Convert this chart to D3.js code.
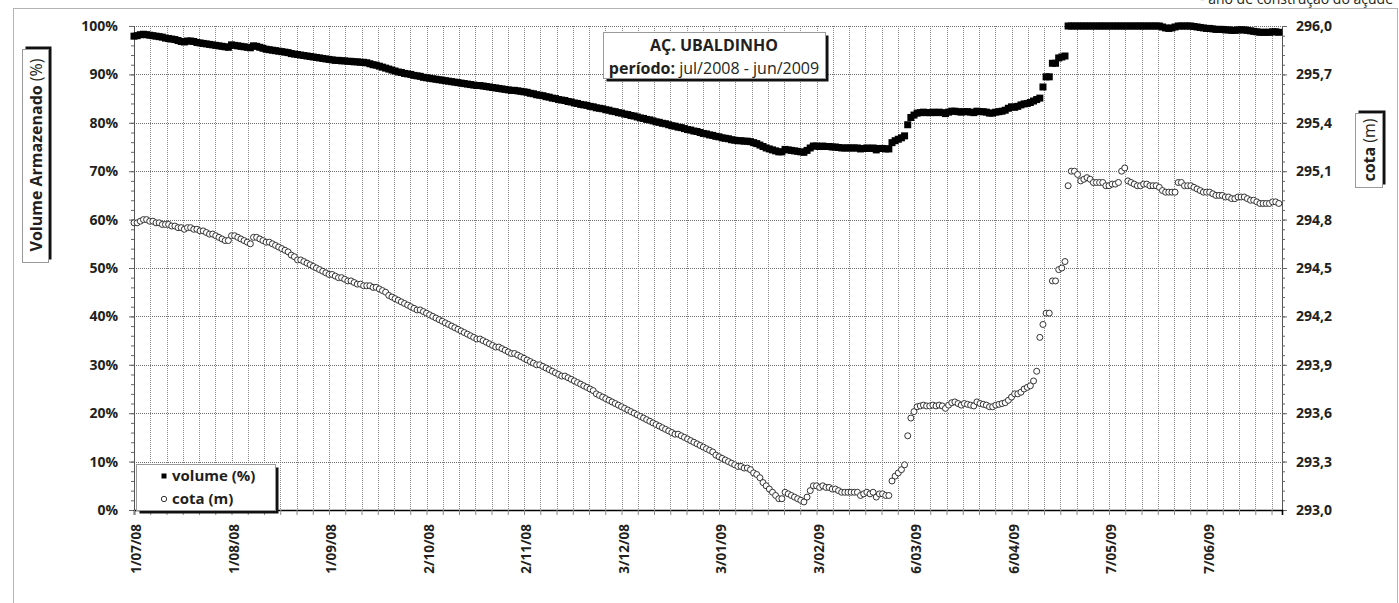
<!DOCTYPE html>
<html>
<head>
<meta charset="utf-8">
<script src="https://cdn.jsdelivr.net/npm/d3@7"></script>
<style>
  body { margin: 0; background: #fff; }
  text { font-family: "Open Sans", sans-serif; fill: #231f20; }
</style>
</head>
<body>
<div id="chart"></div>
<script>
// daily readings, first one on 1/07/2008
const startDate = new Date(2008, 6, 1);
const endDate = new Date(2009, 6, 1);

// volume armazenado (%)
const volume = [
  97.9, 98.0, 98.2, 98.3, 98.2, 98.1, 98.0, 97.9, 97.8, 97.7,
  97.5, 97.4, 97.3, 97.2, 97.0, 96.8, 96.7, 96.9, 96.9, 96.8,
  96.6, 96.5, 96.4, 96.3, 96.2, 96.1, 96.0, 95.9, 95.8, 95.7,
  95.6, 96.1, 96.0, 95.9, 95.8, 95.7, 95.6, 95.5, 95.9, 95.8,
  95.6, 95.4, 95.2, 95.1, 95.0, 94.9, 94.8, 94.7, 94.6, 94.5,
  94.3, 94.2, 94.1, 94.0, 93.9, 93.8, 93.7, 93.6, 93.5, 93.4,
  93.3, 93.2, 93.1, 93.0, 92.9, 92.9, 92.8, 92.8, 92.7, 92.7,
  92.6, 92.6, 92.5, 92.5, 92.4, 92.2, 92.0, 91.9, 91.7, 91.5,
  91.3, 91.1, 90.9, 90.7, 90.5, 90.4, 90.2, 90.1, 90.0, 89.8,
  89.7, 89.6, 89.4, 89.3, 89.2, 89.1, 89.0, 88.9, 88.8, 88.7,
  88.6, 88.5, 88.4, 88.3, 88.2, 88.1, 88.0, 87.9, 87.8, 87.7,
  87.7, 87.6, 87.5, 87.4, 87.3, 87.2, 87.1, 87.0, 86.9, 86.8,
  86.7, 86.7, 86.6, 86.5, 86.4, 86.3, 86.1, 86.0, 85.8, 85.7,
  85.6, 85.4, 85.3, 85.1, 85.0, 84.8, 84.7, 84.6, 84.4, 84.3,
  84.1, 84.0, 83.8, 83.7, 83.6, 83.4, 83.3, 83.1, 83.0, 82.9,
  82.7, 82.6, 82.4, 82.3, 82.1, 82.0, 81.8, 81.7, 81.5, 81.4,
  81.2, 81.0, 80.9, 80.7, 80.6, 80.4, 80.2, 80.1, 79.9, 79.8,
  79.6, 79.4, 79.3, 79.1, 79.0, 78.8, 78.6, 78.5, 78.3, 78.2,
  78.0, 77.8, 77.7, 77.5, 77.4, 77.2, 77.1, 76.9, 76.8, 76.7,
  76.5, 76.4, 76.3, 76.3, 76.2, 76.2, 76.1, 75.9, 75.7, 75.4,
  75.1, 74.8, 74.6, 74.4, 74.2, 74.0, 74.0, 74.5, 74.4, 74.3,
  74.2, 74.1, 74.0, 73.9, 74.3, 74.8, 75.2, 75.2, 75.1, 75.2,
  75.1, 75.1, 75.0, 75.0, 74.9, 74.8, 74.8, 74.8, 74.8, 74.8,
  74.8, 74.6, 74.7, 74.8, 74.7, 74.8, 74.4, 74.7, 74.7, 74.6,
  74.6, 75.9, 76.3, 76.6, 76.9, 77.3, 79.6, 81.1, 81.6, 82.0,
  82.1, 82.2, 82.1, 82.1, 82.2, 82.1, 82.2, 82.1, 81.9, 82.2,
  82.4, 82.4, 82.3, 82.2, 82.3, 82.3, 82.2, 82.1, 82.4, 82.3,
  82.3, 82.2, 82.0, 82.0, 82.2, 82.3, 82.4, 82.6, 83.0, 83.3,
  83.2, 83.4, 83.7, 83.9, 84.0, 84.2, 84.5, 84.8, 85.1, 87.4,
  89.5, 89.5, 92.3, 92.3, 93.4, 93.6, 93.8, 100, 100, 100,
  100, 100, 100, 100, 100, 100, 100, 100, 100, 100,
  100, 100, 100, 100, 100, 100, 100, 100, 100, 100,
  100, 100, 100, 100, 100, 100, 100, 99.8, 99.6, 99.5,
  99.6, 99.8, 100, 100, 100, 100, 100, 99.9, 99.8, 99.7,
  99.6, 99.5, 99.5, 99.4, 99.3, 99.3, 99.3, 99.2, 99.2, 99.1,
  99.1, 99.2, 99.2, 99.2, 99.1, 99.0, 98.9, 98.8, 98.7, 98.7,
  98.7, 98.7, 98.8, 98.8, 98.7
];

// cota (m)
const cota = [
  294.78, 294.78, 294.79, 294.80, 294.80, 294.79, 294.79, 294.78, 294.78, 294.77,
  294.77, 294.77, 294.76, 294.76, 294.75, 294.75, 294.74, 294.75, 294.75, 294.74,
  294.74, 294.73, 294.73, 294.72, 294.71, 294.71, 294.70, 294.69, 294.68, 294.67,
  294.67, 294.70, 294.70, 294.69, 294.68, 294.67, 294.66, 294.65, 294.69, 294.69,
  294.68, 294.67, 294.66, 294.66, 294.65, 294.64, 294.63, 294.62, 294.61, 294.60,
  294.58, 294.57, 294.55, 294.55, 294.54, 294.53, 294.52, 294.51, 294.50, 294.49,
  294.48, 294.47, 294.46, 294.46, 294.45, 294.44, 294.44, 294.43, 294.42, 294.42,
  294.41, 294.40, 294.40, 294.39, 294.39, 294.39, 294.38, 294.38, 294.37, 294.36,
  294.35, 294.33, 294.32, 294.31, 294.30, 294.29, 294.28, 294.27, 294.26, 294.25,
  294.24, 294.24, 294.23, 294.22, 294.21, 294.20, 294.19, 294.18, 294.17, 294.16,
  294.15, 294.14, 294.13, 294.12, 294.11, 294.10, 294.09, 294.08, 294.07, 294.06,
  294.06, 294.05, 294.04, 294.03, 294.02, 294.01, 294.01, 294.00, 293.99, 293.98,
  293.97, 293.97, 293.96, 293.95, 293.94, 293.93, 293.92, 293.91, 293.90, 293.90,
  293.89, 293.88, 293.87, 293.86, 293.85, 293.84, 293.83, 293.83, 293.82, 293.81,
  293.80, 293.79, 293.78, 293.77, 293.76, 293.75, 293.74, 293.72, 293.71, 293.70,
  293.69, 293.68, 293.67, 293.66, 293.65, 293.64, 293.63, 293.62, 293.61, 293.60,
  293.59, 293.58, 293.57, 293.56, 293.55, 293.54, 293.53, 293.52, 293.51, 293.50,
  293.49, 293.48, 293.47, 293.47, 293.46, 293.45, 293.44, 293.43, 293.42, 293.41,
  293.40, 293.39, 293.38, 293.37, 293.36, 293.34, 293.33, 293.32, 293.31, 293.30,
  293.29, 293.28, 293.27, 293.27, 293.26, 293.26, 293.25, 293.23, 293.22, 293.20,
  293.17, 293.15, 293.13, 293.11, 293.09, 293.07, 293.07, 293.11, 293.10, 293.09,
  293.08, 293.07, 293.06, 293.05, 293.08, 293.12, 293.15, 293.15, 293.14, 293.15,
  293.14, 293.14, 293.13, 293.13, 293.12, 293.11, 293.11, 293.11, 293.11, 293.11,
  293.11, 293.09, 293.10, 293.11, 293.10, 293.11, 293.08, 293.10, 293.10, 293.09,
  293.09, 293.18, 293.21, 293.23, 293.25, 293.28, 293.46, 293.57, 293.61, 293.64,
  293.645, 293.65, 293.645, 293.645, 293.65, 293.645, 293.65, 293.645, 293.63, 293.65,
  293.665, 293.67, 293.66, 293.65, 293.66, 293.655, 293.65, 293.645, 293.67, 293.66,
  293.655, 293.65, 293.64, 293.64, 293.65, 293.655, 293.66, 293.665, 293.68, 293.70,
  293.72, 293.72, 293.73, 293.75, 293.76, 293.77, 293.80, 293.86, 294.07, 294.15,
  294.22, 294.22, 294.42, 294.42, 294.49, 294.50, 294.54, 295.01, 295.10, 295.10,
  295.08, 295.04, 295.05, 295.06, 295.05, 295.03, 295.03, 295.03, 295.03, 295.01,
  295.01, 295.02, 295.02, 295.03, 295.10, 295.12, 295.04, 295.03, 295.02, 295.01,
  295.01, 295.02, 295.02, 295.01, 295.01, 295.01, 295.00, 294.98, 294.97, 294.97,
  294.97, 294.97, 295.03, 295.03, 295.01, 295.01, 295.01, 295.00, 294.99, 294.98,
  294.97, 294.97, 294.97, 294.96, 294.95, 294.95, 294.95, 294.94, 294.94, 294.93,
  294.93, 294.94, 294.94, 294.94, 294.93, 294.92, 294.92, 294.91, 294.90, 294.90,
  294.90, 294.90, 294.91, 294.91, 294.90
];

const pctTicks = [0, 10, 20, 30, 40, 50, 60, 70, 80, 90, 100];
const cotaTicks = [293.0, 293.3, 293.6, 293.9, 294.2, 294.5, 294.8, 295.1, 295.4, 295.7, 296.0];
const labelEveryDays = 31; // major unit of the date axis
const minorPerMajor = 6;

const W = 1399, H = 603;
const plot = { left: 134, right: 1282, top: 26, bottom: 510 };

const svg = d3.select("#chart").append("svg")
  .attr("width", W)
  .attr("height", H);

// outer frame of the chart area
svg.append("rect")
  .attr("x", 13.5).attr("y", 8.5)
  .attr("width", 1384).attr("height", 640)
  .attr("fill", "none")
  .attr("stroke", "#b4b4b4");

// note cut off at the very top (as in the source image)
svg.append("text")
  .attr("x", 1393).attr("y", 4)
  .attr("text-anchor", "end")
  .style("font-size", "14px")
  .text("- ano de construção do açude");

// scales
const x = d3.scaleTime().domain([startDate, endDate]).range([plot.left, plot.right]);
const yL = d3.scaleLinear().domain([0, 100]).range([plot.bottom, plot.top]);
const yR = d3.scaleLinear().domain([293, 296]).range([plot.bottom, plot.top]);

const dates = volume.map((v, i) => d3.timeDay.offset(startDate, i));
const dayMs = 864e5;
const tickDates = d3.range(0, 71).map(k => new Date(startDate.getTime() + k * labelEveryDays / minorPerMajor * dayMs));
const fmtDate = d3.timeFormat("%-d/%m/%y");

// grid
const grid = svg.append("g").attr("class", "grid");
grid.selectAll(".vgrid")
  .data(tickDates.slice(1))
  .enter()
  .append("line")
  .attr("class", "vgrid")
  .attr("x1", d => Math.round(x(d)) + 0.5)
  .attr("x2", d => Math.round(x(d)) + 0.5)
  .attr("y1", plot.top)
  .attr("y2", plot.bottom)
  .attr("stroke", "#8a8a8a")
  .attr("stroke-dasharray", "1,1");

grid.selectAll(".hgrid")
  .data(pctTicks.slice(1))
  .enter()
  .append("line")
  .attr("class", "hgrid")
  .attr("x1", plot.left)
  .attr("x2", plot.right)
  .attr("y1", d => Math.round(yL(d)) + 0.5)
  .attr("y2", d => Math.round(yL(d)) + 0.5)
  .attr("stroke", "#6e6e6e")
  .attr("stroke-dasharray", "1,1");

// left axis
const leftAxis = svg.append("g")
  .attr("transform", `translate(${plot.left},0)`)
  .call(d3.axisLeft(yL).tickValues(pctTicks).tickSize(5).tickPadding(11).tickFormat(d => d + "%"));
svg.append("g")
  .attr("transform", `translate(${plot.left},0)`)
  .call(d3.axisLeft(yL).tickValues(d3.range(0, 101, 2)).tickSize(3).tickFormat(""))
  .call(g => g.select(".domain").remove());

// right axis
const rightAxis = svg.append("g")
  .attr("transform", `translate(${plot.right},0)`)
  .call(d3.axisRight(yR).tickValues(cotaTicks).tickSize(5).tickPadding(9)
    .tickFormat(d => d.toFixed(1).replace(".", ",")));
svg.append("g")
  .attr("transform", `translate(${plot.right},0)`)
  .call(d3.axisRight(yR).tickValues(d3.range(0, 51).map(i => 293 + i * 0.06)).tickSize(3).tickFormat(""))
  .call(g => g.select(".domain").remove());

[leftAxis, rightAxis].forEach(g => {
  g.selectAll("text")
    .style("font-size", "14px")
    .style("font-weight", "700")
    .attr("fill", "#231f20");
});
svg.selectAll(".tick line").attr("stroke", "#666");
leftAxis.select(".domain").attr("stroke", "#555");
rightAxis.select(".domain").attr("stroke", "#555");

// bottom axis
const bottomAxis = svg.append("g")
  .attr("transform", `translate(0,${plot.bottom})`)
  .call(d3.axisBottom(x).tickValues(tickDates).tickSize(5)
    .tickFormat((d, i) => (i % minorPerMajor === 0 ? fmtDate(d) : "")));
bottomAxis.select(".domain").attr("stroke", "#000").attr("stroke-width", 1.6);
bottomAxis.selectAll(".tick line").attr("stroke", "#888");
bottomAxis.selectAll("text")
  .attr("transform", "rotate(-90)")
  .attr("text-anchor", "end")
  .attr("x", -14)
  .attr("y", 2)
  .attr("dy", "0.35em")
  .style("font-size", "13.5px")
  .style("font-weight", "700")
  .attr("fill", "#231f20");

// series
svg.append("g")
  .selectAll("rect")
  .data(volume)
  .enter()
  .append("rect")
  .attr("x", (d, i) => x(dates[i]) - 3.5)
  .attr("y", d => yL(d) - 3.5)
  .attr("width", 7)
  .attr("height", 7)
  .attr("fill", "#000");

svg.append("g")
  .selectAll("circle")
  .data(cota)
  .enter()
  .append("circle")
  .attr("cx", (d, i) => x(dates[i]))
  .attr("cy", d => yR(d))
  .attr("r", 3)
  .attr("fill", "#fff")
  .attr("stroke", "#333")
  .attr("stroke-width", 1);

// boxes with a drop shadow
function shadowBox(bx, by, bw, bh, dx, dy) {
  svg.append("rect")
    .attr("x", bx + dx).attr("y", by + dy)
    .attr("width", bw).attr("height", bh)
    .attr("fill", "#111");
  svg.append("rect")
    .attr("x", bx).attr("y", by)
    .attr("width", bw).attr("height", bh)
    .attr("fill", "#fff")
    .attr("stroke", "#9a9a9a");
}

// title
shadowBox(603.5, 32.5, 222, 46, 3, 3);
svg.append("text")
  .attr("x", 714).attr("y", 45).attr("dy", "0.35em")
  .attr("text-anchor", "middle")
  .style("font-size", "16px").style("font-weight", "700")
  .text("AÇ. UBALDINHO");
const sub = svg.append("text")
  .attr("x", 714).attr("y", 68).attr("dy", "0.35em")
  .attr("text-anchor", "middle")
  .style("font-size", "16px");
sub.append("tspan").style("font-weight", "700").text("período:");
sub.append("tspan").text(" jul/2008 - jun/2009");

// legend
shadowBox(136.5, 464.5, 139, 46, 3, 3);
const legendItems = [
  { label: "volume (%)", mark: "square" },
  { label: "cota (m)", mark: "circle" }
];
legendItems.forEach((item, i) => {
  const ly = 476 + i * 23;
  if (item.mark === "square") {
    svg.append("rect").attr("x", 161.5).attr("y", ly - 2.5).attr("width", 5).attr("height", 5).attr("fill", "#000");
  } else {
    svg.append("circle").attr("cx", 164).attr("cy", ly).attr("r", 2.7)
      .attr("fill", "#fff").attr("stroke", "#333");
  }
  svg.append("text")
    .attr("x", 172).attr("y", ly).attr("dy", "0.35em")
    .style("font-size", "15px").style("font-weight", "700")
    .text(item.label);
});

// axis titles
shadowBox(22.5, 49.5, 26, 213, 3, -3);
const yTitle = svg.append("text")
  .attr("transform", "translate(36,155) rotate(-90)")
  .attr("dy", "0.35em")
  .attr("text-anchor", "middle")
  .style("font-size", "16px");
yTitle.append("tspan").style("font-weight", "700").text("Volume Armazenado");
yTitle.append("tspan").text(" (%)");

shadowBox(1355.5, 113.5, 27, 74, 3, -3);
const rTitle = svg.append("text")
  .attr("transform", "translate(1369,150) rotate(-90)")
  .attr("dy", "0.35em")
  .attr("text-anchor", "middle")
  .style("font-size", "16px");
rTitle.append("tspan").style("font-weight", "700").text("cota");
rTitle.append("tspan").text(" (m)");
</script>
</body>
</html>
